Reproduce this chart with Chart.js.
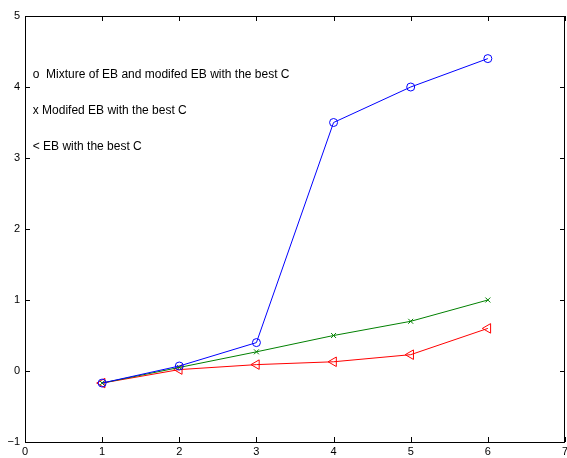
<!DOCTYPE html>
<html>
<head>
<meta charset="utf-8">
<script src="https://cdn.jsdelivr.net/npm/chart.js@4/dist/chart.umd.min.js"></script>
<style>
html,body{margin:0;padding:0;background:#fff;}
#wrap{width:567px;height:458px;}
</style>
</head>
<body>
<div id="wrap"><canvas id="c" width="567" height="458"></canvas></div>
<script>
const xValues = [1, 2, 3, 4, 5, 6];
const mixtureSeries = [-0.17, 0.07, 0.40, 3.50, 4.00, 4.40];
const modifiedSeries = [-0.17, 0.05, 0.27, 0.50, 0.70, 1.00];
const ebSeries = [-0.17, 0.02, 0.09, 0.13, 0.23, 0.60];
const xTicks = [0, 1, 2, 3, 4, 5, 6, 7];
const yTicks = [-1, 0, 1, 2, 3, 4, 5];
const annotationTexts = [
  "o  Mixture of EB and modifed EB with the best C",
  "x Modifed EB with the best C",
  "< EB with the best C"
];
const annotationX = 0.1;
const annotationY = [4.18, 3.67, 3.16];

const FONT = "'Liberation Sans', Arial, Helvetica, sans-serif";

function pts(ys){ return xValues.map((x,i)=>({x:x, y:ys[i]})); }

const framePlugin = {
  id: 'frame',
  afterDatasetsDraw(chart){
    const ctx = chart.ctx, a = chart.chartArea;
    const xs = chart.scales.x, ys = chart.scales.y;
    ctx.save();
    ctx.strokeStyle = '#000';
    ctx.lineWidth = 1;
    ctx.strokeRect(Math.round(a.left)+0.5, Math.round(a.top)+0.5, Math.round(a.right-a.left)-1, Math.round(a.bottom-a.top));
    const tl = 5;
    ctx.beginPath();
    xTicks.forEach(v=>{
      const px = Math.round(xs.getPixelForValue(v))+0.5;
      ctx.moveTo(px, a.bottom); ctx.lineTo(px, a.bottom-tl);
      ctx.moveTo(px, a.top); ctx.lineTo(px, a.top+tl);
    });
    yTicks.forEach(v=>{
      const py = Math.round(ys.getPixelForValue(v))+0.5;
      ctx.moveTo(a.left, py); ctx.lineTo(a.left+tl, py);
      ctx.moveTo(a.right, py); ctx.lineTo(a.right-tl, py);
    });
    ctx.stroke();
    ctx.fillStyle = '#000';
    ctx.font = '12px ' + FONT;
    ctx.textAlign = 'left';
    ctx.textBaseline = 'middle';
    annotationTexts.forEach((t,i)=>{
      ctx.fillText(t, xs.getPixelForValue(annotationX), ys.getPixelForValue(annotationY[i]));
    });
    ctx.restore();
  }
};

new Chart(document.getElementById('c'), {
  type: 'line',
  data: {
    datasets: [
      { label: 'Mixture', data: pts(mixtureSeries), borderColor: '#0000ff', borderWidth: 1,
        pointStyle: 'circle', pointRadius: 4, pointBorderColor: '#0000ff', pointBackgroundColor: 'rgba(0,0,0,0)', pointBorderWidth: 1 },
      { label: 'Modified', data: pts(modifiedSeries), borderColor: '#008000', borderWidth: 1,
        pointStyle: 'crossRot', pointRadius: 3.5, pointBorderColor: '#008000', pointBorderWidth: 1 },
      { label: 'EB', data: pts(ebSeries), borderColor: '#ff0000', borderWidth: 1,
        pointStyle: 'triangle', pointRotation: -90, pointRadius: 5.5, pointBorderColor: '#ff0000', pointBackgroundColor: 'rgba(0,0,0,0)', pointBorderWidth: 1 }
    ]
  },
  options: {
    responsive: false,
    animation: false,
    devicePixelRatio: 1,
    layout: { autoPadding: false, padding: { top: 16, right: 2, left: 0, bottom: 0 } },
    plugins: { legend: { display: false }, tooltip: { enabled: false } },
    elements: { line: { tension: 0 } },
    scales: {
      x: {
        type: 'linear', min: 0, max: 7,
        afterBuildTicks(s){ s.ticks = xTicks.map(v=>({value:v})); },
        afterFit(s){ s.height = 16; s.paddingLeft = 0; s.paddingRight = 0; },
        grid: { display: false, drawTicks: false },
        border: { display: false },
        ticks: { padding: 3, color: '#000', font: { family: FONT, size: 11 }, maxRotation: 0,
          callback: v => String(v).replace('-', '\u2212') }
      },
      y: {
        type: 'linear', min: -1, max: 5,
        afterBuildTicks(s){ s.ticks = yTicks.map(v=>({value:v})); },
        afterFit(s){ s.width = 25; s.paddingTop = 0; s.paddingBottom = 0; },
        grid: { display: false, drawTicks: false },
        border: { display: false },
        ticks: { padding: 5, color: '#000', font: { family: FONT, size: 11 },
          callback: v => String(v).replace('-', '\u2212') }
      }
    }
  },
  plugins: [framePlugin]
});
</script>
</body>
</html>
